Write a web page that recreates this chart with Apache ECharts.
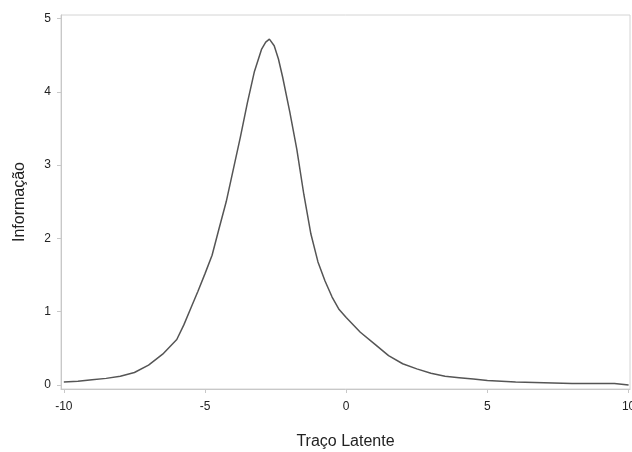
<!DOCTYPE html>
<html>
<head>
<meta charset="utf-8">
<script src="https://cdn.jsdelivr.net/npm/echarts@6/dist/echarts.min.js"></script>
<style>html,body{margin:0;padding:0;background:#fff;}#c{width:632px;height:452px;}</style>
</head>
<body>
<div id="c"></div>
<script>
const xValues = [-10, -9.5, -9, -8.5, -8, -7.5, -7, -6.5, -6, -5.75, -5.5, -5.25, -5, -4.75, -4.5, -4.25, -4, -3.75, -3.5, -3.25, -3, -2.85, -2.72, -2.55, -2.4, -2.25, -2, -1.75, -1.5, -1.25, -1, -0.75, -0.5, -0.25, 0, 0.5, 1, 1.5, 2, 2.5, 3, 3.5, 4, 4.5, 5, 5.5, 6, 7, 8, 9, 9.5, 10];
const infoValues = [0.04, 0.05, 0.07, 0.09, 0.12, 0.17, 0.27, 0.42, 0.62, 0.82, 1.05, 1.28, 1.52, 1.77, 2.14, 2.5, 2.94, 3.38, 3.85, 4.28, 4.58, 4.68, 4.72, 4.63, 4.45, 4.2, 3.73, 3.22, 2.6, 2.06, 1.68, 1.42, 1.2, 1.03, 0.92, 0.72, 0.56, 0.4, 0.29, 0.22, 0.16, 0.12, 0.1, 0.08, 0.06, 0.05, 0.04, 0.03, 0.02, 0.02, 0.02, 0.0];
const xTicks = [-10, -5, 0, 5, 10];
const yTicks = [0, 1, 2, 3, 4, 5];
const xName = 'Traço Latente';
const yName = 'Informação';

const chart = echarts.init(document.getElementById('c'), null, {renderer: 'canvas'});
const font = '"Liberation Sans", Arial, sans-serif';
chart.setOption({
  animation: false,
  backgroundColor: '#fff',
  grid: {left: 61, right: 2, top: 15, bottom: 63, show: true, borderColor: '#d4d4d4', borderWidth: 1, containLabel: false, outerBoundsMode: 'none'},
  xAxis: {
    type: 'value', min: -10.1, max: 10.05,
    name: xName, nameLocation: 'middle', nameGap: 45,
    nameTextStyle: {fontSize: 16, color: '#222', fontFamily: font},
    axisLine: {show: true, onZero: false, lineStyle: {color: '#c8c8c8'}},
    axisTick: {show: true, length: 4, customValues: xTicks, lineStyle: {color: '#c8c8c8'}},
    axisLabel: {customValues: xTicks, fontSize: 12, color: '#222', fontFamily: font, margin: 12},
    splitLine: {show: false}
  },
  yAxis: {
    type: 'value', min: -0.055, max: 5.05,
    name: yName, nameLocation: 'middle', nameGap: 33,
    nameTextStyle: {fontSize: 16, color: '#222', fontFamily: font},
    axisLine: {show: true, onZero: false, lineStyle: {color: '#c8c8c8'}},
    axisTick: {show: true, length: 4, customValues: yTicks, lineStyle: {color: '#c8c8c8'}},
    axisLabel: {customValues: yTicks, fontSize: 12, color: '#222', fontFamily: font, margin: 10},
    splitLine: {show: false}
  },
  series: [{
    type: 'line',
    data: xValues.map((x, i) => [x, infoValues[i]]),
    showSymbol: false,
    smooth: false,
    lineStyle: {color: '#555', width: 1.5}
  }]
});
</script>
</body>
</html>
